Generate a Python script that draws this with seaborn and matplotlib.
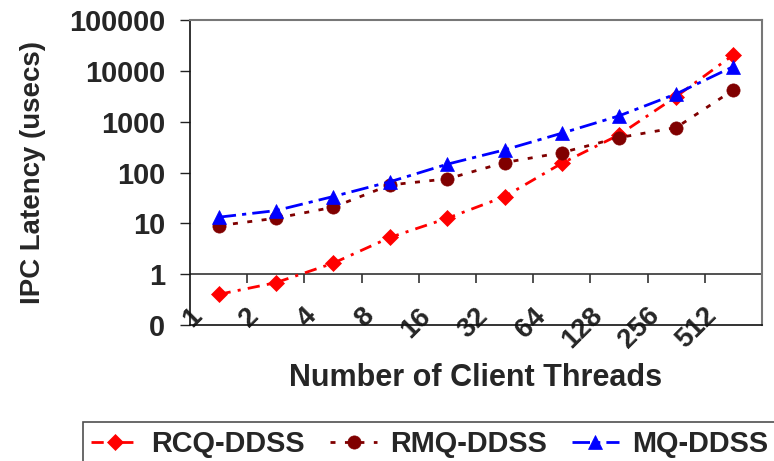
import numpy as np
import pandas as pd
import matplotlib
matplotlib.use("Agg")
import matplotlib.pyplot as plt
import matplotlib.transforms as mtransforms
import seaborn as sns

# Client thread counts (categories on the x axis)
threads = [1, 2, 4, 8, 16, 32, 64, 128, 256, 512]

# IPC latency in microseconds for each scheme
rcq_ddss = [0.40, 0.68, 1.64, 5.3, 12.6, 33.6, 152, 550, 3120, 20650]
rmq_ddss = [9.0, 12.6, 20.7, 57, 75, 157, 246, 486, 765, 4225]
mq_ddss = [13.2, 17.8, 33.6, 66, 146, 279, 593, 1300, 3525, 12160]

series_names = ["RCQ-DDSS", "RMQ-DDSS", "MQ-DDSS"]

# Y axis decades and their printed labels
y_ticks = [0.1, 1, 10, 100, 1000, 10000, 100000]
y_tick_labels = ["0", "1", "10", "100", "1000", "10000", "100000"]

sns.set_theme(style="white")
plt.rcParams["font.family"] = ["Liberation Sans", "DejaVu Sans"]
plt.rcParams["font.weight"] = "bold"
plt.rcParams["axes.labelweight"] = "bold"

fig, ax = plt.subplots(figsize=(7.74, 4.61), dpi=100)
fig.subplots_adjust(left=0.2455, right=0.9845, top=0.9566, bottom=0.295)

# each category occupies one unit; points sit in the middle of their slot
pos = np.arange(len(threads)) + 0.5

styles = {
    "RCQ-DDSS": dict(color="#ff0000", marker="D", markersize=8.5,
                     linestyle=(0, (4.4, 2.6, 1.1, 2.6))),
    "RMQ-DDSS": dict(color="#800000", marker="o", markersize=9.5,
                     linestyle=(0, (1.8, 3.4))),
    "MQ-DDSS": dict(color="#0000ff", marker="^", markersize=10.5,
                    linestyle=(0, (6.3, 2.2, 1.5, 2.2))),
}

for name, values in zip(series_names, [rcq_ddss, rmq_ddss, mq_ddss]):
    df = pd.DataFrame({"pos": pos, "latency": values})
    st = styles[name]
    sns.lineplot(data=df, x="pos", y="latency", ax=ax, label=name,
                 color=st["color"], marker=st["marker"],
                 markersize=st["markersize"], linestyle=st["linestyle"],
                 markeredgecolor=st["color"], markeredgewidth=0.5,
                 linewidth=2.0, errorbar=None)

handles, labels = ax.get_legend_handles_labels()
if ax.get_legend() is not None:
    ax.get_legend().remove()

ax.set_yscale("log")
ax.set_ylim(0.1, 100000)
ax.set_xlim(0, len(threads))

# y axis: decades only, labelled as integers
ax.yaxis.set_major_locator(matplotlib.ticker.FixedLocator(y_ticks))
ax.yaxis.set_minor_locator(matplotlib.ticker.NullLocator())
ax.set_yticklabels(y_tick_labels)
ax.tick_params(axis="y", which="major", left=True, direction="out",
               length=7, width=1, color="#222222", labelsize=20.8, pad=11)

# x axis: category labels at the slot boundaries, tilted
ax.set_xticks(np.arange(len(threads)))
ax.set_xticklabels([str(t) for t in threads], rotation=45, ha="right",
                   va="center", rotation_mode="anchor", fontsize=19.8)
ax.tick_params(axis="x", which="major", bottom=True, length=0, pad=0)
shift = mtransforms.ScaledTranslation(0.08, 0.13, fig.dpi_scale_trans)
for lab in ax.get_xticklabels():
    lab.set_transform(lab.get_transform() + shift)

# category axis crossing at 1, with downward tick marks at slot edges
ax.axhline(1, color="#333333", linewidth=1.2, zorder=1)
ax.plot(np.arange(1, len(threads) + 1), np.ones(len(threads)),
        linestyle="none", marker=3, markersize=6.5, color="#333333",
        markeredgewidth=1.2, zorder=1)

for side in ["left", "bottom"]:
    ax.spines[side].set_color("#111111")
    ax.spines[side].set_linewidth(1.2)
for side in ["top", "right"]:
    ax.spines[side].set_color("#777777")
    ax.spines[side].set_linewidth(1.5)
ax.grid(False)

ax.set_ylabel("IPC Latency (usecs)", fontsize=19.9, fontweight="bold")
ax.yaxis.set_label_coords(-0.252, 0.5)
ax.set_xlabel("Number of Client Threads", fontsize=22, fontweight="bold")
ax.xaxis.set_label_coords(0.5, -0.125)

leg = fig.legend(handles, labels, loc="upper left",
                 bbox_to_anchor=(82.5 / 774, 1 - 421.5 / 461), ncol=3,
                 frameon=True, fancybox=False, shadow=False,
                 prop=dict(size=20.8, weight="bold"),
                 handlelength=1.65, handletextpad=0.44, columnspacing=0.85,
                 borderpad=0.3, borderaxespad=0)
leg.get_frame().set_edgecolor("#222222")
leg.get_frame().set_linewidth(1.2)

fig.savefig("out.png", dpi=100)
